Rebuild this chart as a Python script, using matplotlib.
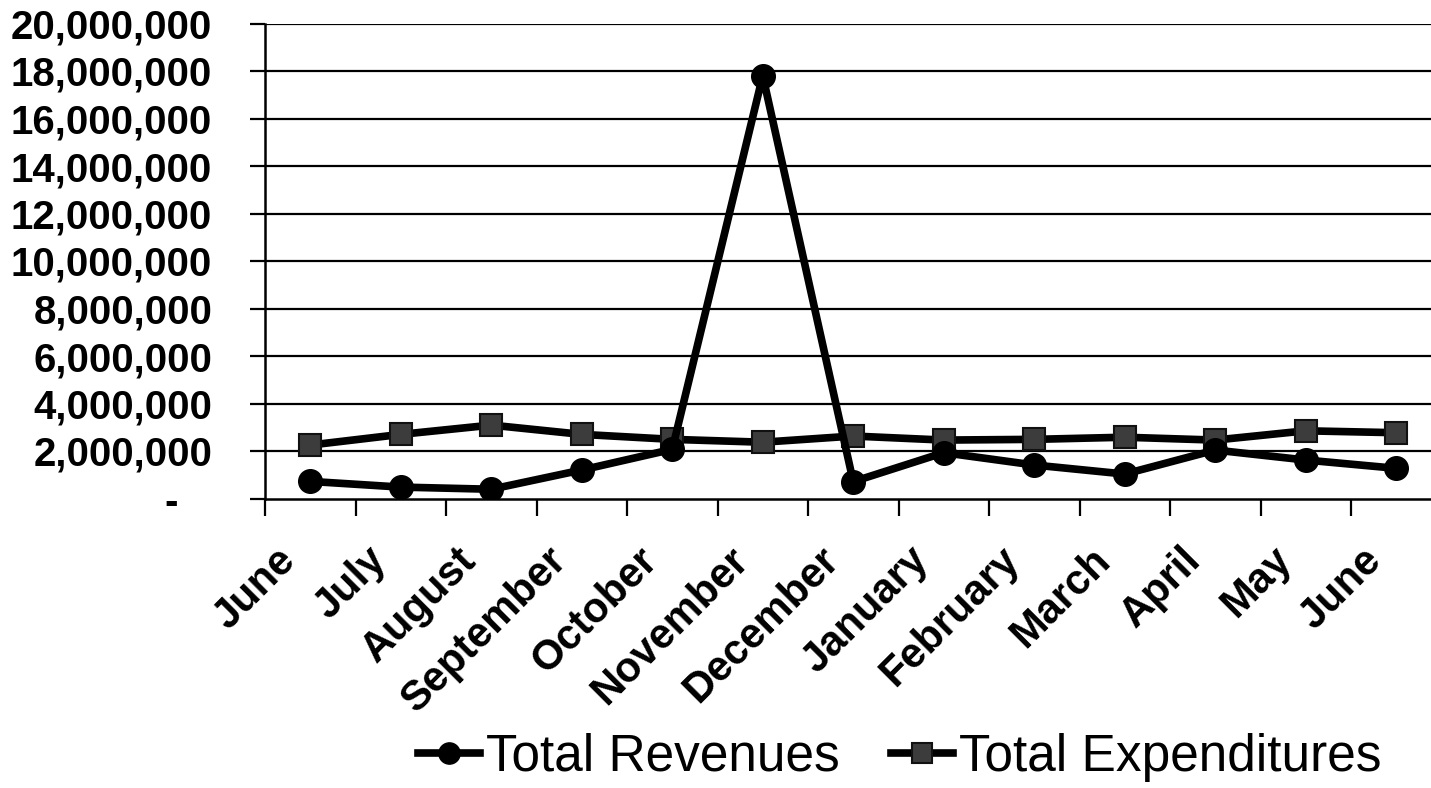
import matplotlib
matplotlib.use("Agg")
import matplotlib.pyplot as plt
from matplotlib.ticker import FixedLocator, NullFormatter, FixedFormatter
from matplotlib.transforms import ScaledTranslation

months = ["June", "July", "August", "September", "October", "November", "December",
          "January", "February", "March", "April", "May", "June"]
revenues = [720000, 480000, 390000, 1200000, 2070000, 17800000, 710000,
            1930000, 1410000, 1030000, 2040000, 1620000, 1270000]
expenditures = [2250000, 2700000, 3090000, 2700000, 2490000, 2370000, 2630000,
                2460000, 2490000, 2580000, 2460000, 2850000, 2770000]
ytick_values = [0, 2000000, 4000000, 6000000, 8000000, 10000000, 12000000,
                14000000, 16000000, 18000000, 20000000]
ytick_labels = ["-   ", "2,000,000", "4,000,000", "6,000,000", "8,000,000", "10,000,000",
                "12,000,000", "14,000,000", "16,000,000", "18,000,000", "20,000,000"]

W, H = 1431, 788
fig = plt.figure(figsize=(W / 100, H / 100), dpi=100)
left, right, top, bottom = 265, 1431, 23.5, 498.5
ax = fig.add_axes([left / W, 1 - bottom / H, (right - left) / W, (bottom - top) / H])

cat_w = 90.5
n = len(months)
x = list(range(n))
ax.set_xlim(-0.5, -0.5 + (right - left) / cat_w)
ax.set_ylim(0, 20000000)

# gridlines
for v in ytick_values[1:]:
    ax.axhline(v, color="black", lw=1.6, zorder=1)

ax.plot(x, expenditures, color="black", lw=5.5, marker="s", markersize=16,
        markerfacecolor="#3c3c3c", markeredgecolor="#111111", markeredgewidth=1.5,
        label="Total Expenditures", zorder=3)
ax.plot(x, revenues, color="black", lw=5.5, marker="o", markersize=17,
        markerfacecolor="black", markeredgecolor="black",
        label="Total Revenues", zorder=4)

for s in ["top", "right"]:
    ax.spines[s].set_visible(False)
for s in ["left", "bottom"]:
    ax.spines[s].set_linewidth(1.8)
    ax.spines[s].set_color("black")

ax.yaxis.set_major_locator(FixedLocator(ytick_values))
ax.yaxis.set_major_formatter(FixedFormatter(ytick_labels))
ax.tick_params(axis="y", direction="out", length=11, width=1.6, pad=27,
               labelsize=29)
for lab in ax.get_yticklabels():
    lab.set_fontweight("bold")
    lab.set_fontfamily("Liberation Sans")

ax.xaxis.set_major_locator(FixedLocator([i - 0.5 for i in range(n + 1)]))
ax.xaxis.set_major_formatter(NullFormatter())
ax.tick_params(axis="x", which="major", direction="out", length=12, width=1.6)
ax.xaxis.set_minor_locator(FixedLocator(x))
ax.xaxis.set_minor_formatter(FixedFormatter(months))
ax.tick_params(axis="x", which="minor", length=0, pad=40, labelsize=30)
off = ScaledTranslation(-15 / 72, 0, fig.dpi_scale_trans)
for lab in ax.get_xticklabels(minor=True):
    lab.set_rotation(45)
    lab.set_ha("right")
    lab.set_va("center")
    lab.set_rotation_mode("anchor")
    lab.set_fontweight("bold")
    lab.set_fontfamily("Liberation Sans")
    lab.set_transform(lab.get_transform() + off)

handles, labels = ax.get_legend_handles_labels()
handles = handles[::-1]
labels = labels[::-1]
fig.legend(handles, labels, loc="center", bbox_to_anchor=(900 / W, 1 - 757 / H),
           ncol=2, frameon=False, prop={"family": "Liberation Sans", "size": 37},
           handlelength=1.2, handletextpad=0.12, columnspacing=1.0,
           markerscale=0.9)

fig.savefig("out.png", dpi=100)
